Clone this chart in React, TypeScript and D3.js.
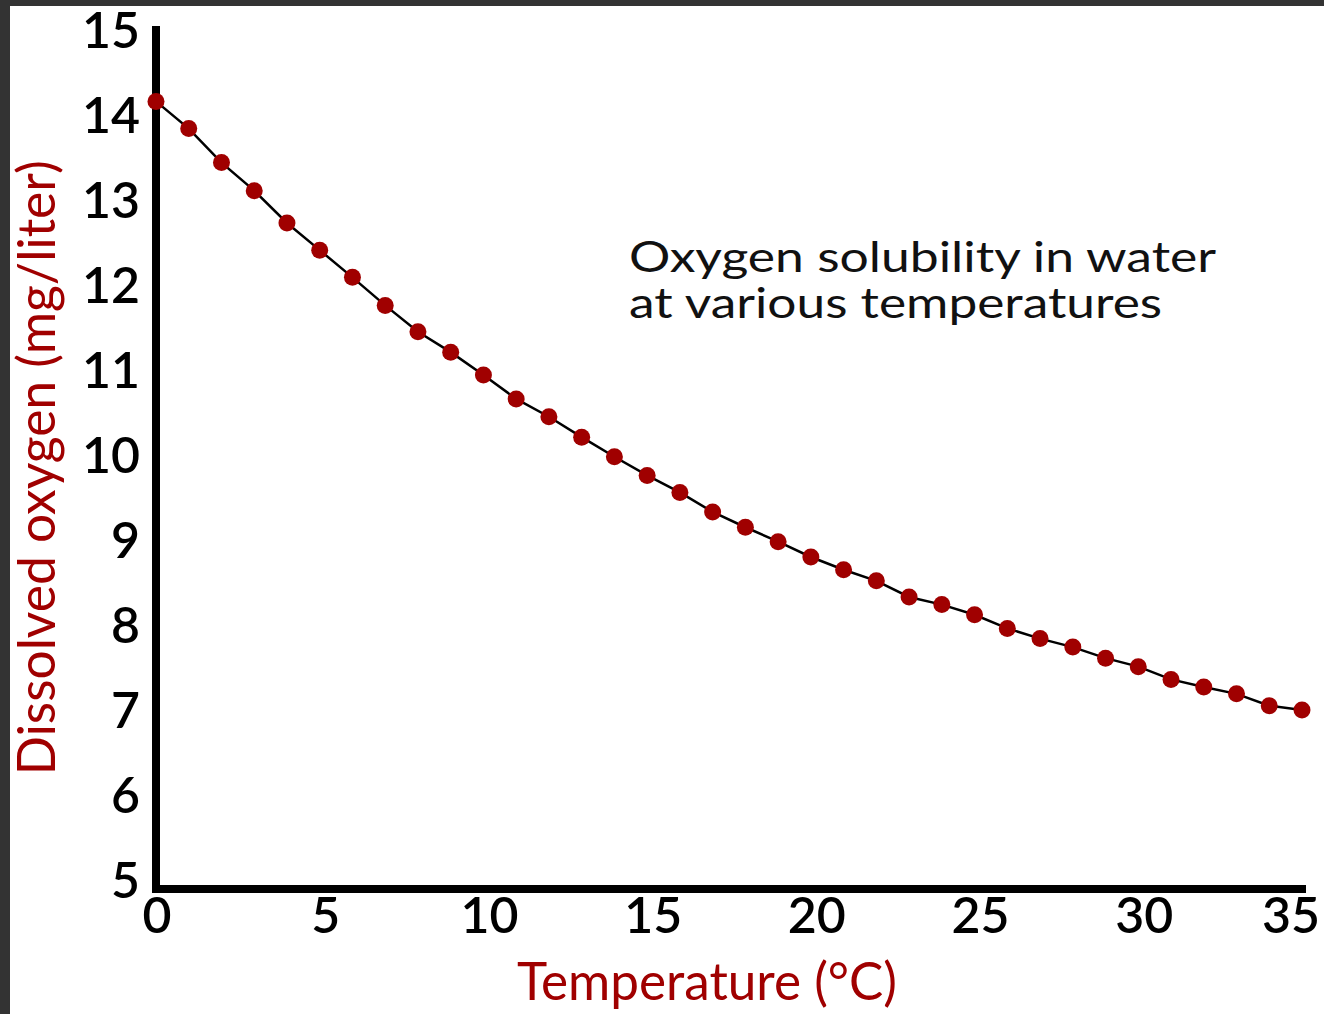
import React, { useEffect, useRef } from 'react'
import * as d3 from 'd3'

// temperature in °C, one reading per degree
const temperatures = d3.range(0, 36)
// dissolved oxygen (mg/liter)
const oxygen = [
  14.16, 13.84, 13.44, 13.11, 12.73, 12.41, 12.09, 11.76, 11.45, 11.21, 10.94, 10.66, 10.45, 10.21, 9.98, 9.76,
  9.56, 9.33, 9.15, 8.98, 8.8, 8.65, 8.52, 8.33, 8.24, 8.12, 7.96, 7.84, 7.74, 7.61, 7.51, 7.36, 7.27, 7.19, 7.05,
  7.0,
]
const xTicks = [0, 5, 10, 15, 20, 25, 30, 35]
const yTicks = [5, 6, 7, 8, 9, 10, 11, 12, 13, 14, 15]
const titleLines = ['Oxygen solubility in water', 'at various temperatures']
const xLabel = 'Temperature (°C)'
const yLabel = 'Dissolved oxygen (mg/liter)'

const WIDTH = 1324
const HEIGHT = 1014
const RED = '#a00000'
const FONT = 'Lato, "Open Sans", sans-serif'

const App: React.FC = () => {
  const svgRef = useRef<SVGSVGElement>(null)

  useEffect(() => {
    if (!svgRef.current) return

    const x = d3.scaleLinear().domain([0, 35]).range([156, 1302])
    const y = d3.scaleLinear().domain([5, 15]).range([880, 30])

    const svg = d3.select(svgRef.current)
    svg.selectAll('*').remove()

    svg.append('rect').attr('width', WIDTH).attr('height', HEIGHT).attr('fill', '#ffffff')

    // dark frame on the top and left edges
    svg.append('rect').attr('width', WIDTH).attr('height', 6).attr('fill', '#333333')
    svg.append('rect').attr('width', 10).attr('height', HEIGHT).attr('fill', '#333333')

    // axes lines (thick, drawn like an L)
    const x0 = x(0)
    const yBase = y(5) + 9
    svg
      .append('path')
      .attr('d', `M${x0},${y(15) - 4}V${yBase}H${x(35) + 4}`)
      .attr('fill', 'none')
      .attr('stroke', '#000')
      .attr('stroke-width', 8)

    // y tick labels
    svg
      .append('g')
      .selectAll('text')
      .data(yTicks)
      .join('text')
      .attr('x', 140)
      .attr('y', (d) => y(d))
      .attr('dy', '0.36em')
      .attr('text-anchor', 'end')
      .attr('font-family', FONT)
      .attr('font-size', 50)
      .attr('font-weight', 600)
      .attr('fill', '#000')
      .text((d) => d)

    // x tick labels
    svg
      .append('g')
      .selectAll('text')
      .data(xTicks)
      .join('text')
      .attr('x', (d) => x(d))
      .attr('dx', (d) => (d === 35 ? -11 : d === 0 ? 1 : 6))
      .attr('y', yBase + 44)
      .attr('text-anchor', 'middle')
      .attr('font-family', FONT)
      .attr('font-size', 50)
      .attr('font-weight', 600)
      .attr('fill', '#000')
      .text((d) => d)

    // line + dots
    const pts = temperatures.map((t, i) => [t, oxygen[i]] as [number, number])
    const line = d3
      .line<[number, number]>()
      .x((d) => x(d[0]))
      .y((d) => y(d[1]))

    svg
      .append('path')
      .attr('d', line(pts))
      .attr('fill', 'none')
      .attr('stroke', '#000')
      .attr('stroke-width', 2.5)

    svg
      .append('g')
      .selectAll('circle')
      .data(pts)
      .join('circle')
      .attr('cx', (d) => x(d[0]))
      .attr('cy', (d) => y(d[1]))
      .attr('r', 8.5)
      .attr('fill', RED)

    // chart title
    const title = svg.append('g').attr('font-family', FONT).attr('font-size', 43).attr('fill', '#111')
    title
      .append('text')
      .attr('x', x(14.45))
      .attr('y', 272)
      .attr('textLength', 587)
      .attr('lengthAdjust', 'spacingAndGlyphs')
      .text(titleLines[0])
    title
      .append('text')
      .attr('x', x(14.45))
      .attr('y', 318)
      .attr('textLength', 533)
      .attr('lengthAdjust', 'spacingAndGlyphs')
      .text(titleLines[1])

    // axis titles
    svg
      .append('text')
      .attr('x', 707)
      .attr('y', 1000)
      .attr('text-anchor', 'middle')
      .attr('font-family', FONT)
      .attr('font-size', 52)
      .attr('fill', RED)
      .attr('textLength', 380)
      .attr('lengthAdjust', 'spacingAndGlyphs')
      .text(xLabel)

    svg
      .append('text')
      .attr('transform', `translate(55,${y(9.85)}) rotate(-90)`)
      .attr('text-anchor', 'middle')
      .attr('font-family', FONT)
      .attr('font-size', 52)
      .attr('fill', RED)
      .attr('textLength', 615)
      .attr('lengthAdjust', 'spacingAndGlyphs')
      .text(yLabel)
  }, [])

  return (
    <svg
      ref={svgRef}
      width={WIDTH}
      height={HEIGHT}
      style={{ position: 'absolute', left: 0, top: 0, display: 'block' }}
    ></svg>
  )
}

export default App
